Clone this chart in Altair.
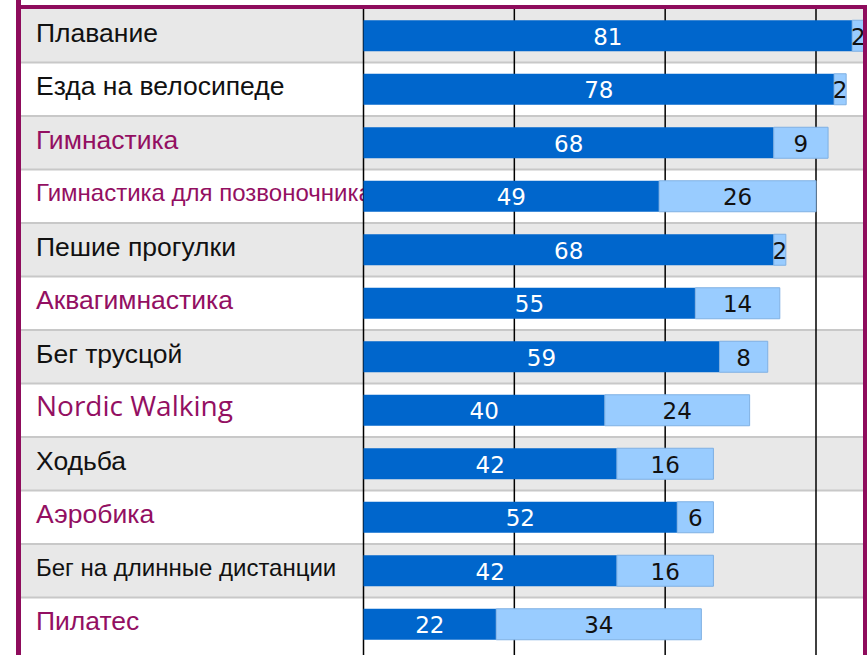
import altair as alt
import pandas as pd

# ---- data ----
categories = [
    "Плавание", "Езда на велосипеде", "Гимнастика", "Гимнастика для позвоночника",
    "Пешие прогулки", "Аквагимнастика", "Бег трусцой", "Nordic Walking",
    "Ходьба", "Аэробика", "Бег на длинные дистанции", "Пилатес",
]
dark_values = [81, 78, 68, 49, 68, 55, 59, 40, 42, 52, 42, 22]
light_values = [2, 2, 9, 26, 2, 14, 8, 24, 16, 6, 16, 34]
grid_ticks = [0, 25, 50, 75]

# ---- styles ----
PURPLE = "#8e0c5c"
LABEL_PURPLE = "#930f62"
DARK = "#0066cc"
LIGHT = "#99ccff"
label_groups = [
    (["Плавание", "Езда на велосипеде", "Пешие прогулки", "Бег трусцой", "Ходьба"],
     "Liberation Sans", 26.5, "#111111"),
    (["Бег на длинные дистанции"], "Liberation Sans", 24, "#111111"),
    (["Гимнастика", "Аквагимнастика", "Аэробика", "Пилатес"], "Liberation Sans", 26.5, LABEL_PURPLE),
    (["Гимнастика для позвоночника"], "Liberation Sans", 24, LABEL_PURPLE),
    (["Nordic Walking"], "Open Sans", 28, LABEL_PURPLE),
]

W, H = 842, 646
df = pd.DataFrame({
    "cat": categories,
    "dark": dark_values,
    "light": light_values,
    "row": list(range(len(categories))),
})
ticks_df = pd.DataFrame({"t": grid_ticks})
one = pd.DataFrame({"a": [0]})

y_scale = alt.Scale(domain=categories, range=[0, 642], paddingInner=0, paddingOuter=0)
x_scale = alt.Scale(domain=[-56.77, 82.79], nice=False, zero=False)

def Y(**kw):
    return alt.Y("cat:N", scale=y_scale, axis=None, sort=categories, **kw)

base = alt.Chart(df).transform_calculate(
    start="0",
    total="datum.dark + datum.light",
    mid1="datum.dark / 2",
    mid2="datum.dark + datum.light / 2",
)

backgrounds = base.mark_rect().encode(
    x=alt.value(0), x2=alt.value(W), y=Y(),
    color=alt.condition("datum.row % 2 == 0", alt.value("#e8e8e8"), alt.value("#ffffff")),
)

separators = base.mark_rule(color="#c8c8c8", strokeWidth=2).encode(
    y=Y(bandPosition=1)
).transform_filter("datum.row < 11")

label_layers = []
for names, font, size, color in label_groups:
    label_layers.append(
        base.mark_text(align="left", baseline="middle", font=font, fontSize=size, color=color, dy=-2)
        .encode(x=alt.value(15), y=Y(), text="cat:N")
        .transform_filter(alt.FieldOneOfPredicate(field="cat", oneOf=names))
    )

grid = alt.Chart(ticks_df).mark_rule(color="#000000", strokeWidth=1.5).encode(
    x=alt.X("t:Q", scale=x_scale, axis=None)
)

dark_bars = base.mark_bar(size=31, color=DARK).encode(
    x=alt.X("start:Q", scale=x_scale, axis=None), x2="dark:Q", y=Y()
)
light_bars = base.mark_bar(size=31, color=LIGHT, stroke="#7fb0e3", strokeWidth=1).encode(
    x=alt.X("dark:Q", scale=x_scale, axis=None), x2="total:Q", y=Y()
)

dark_text = base.mark_text(font="DejaVu Sans", fontSize=23, color="white", baseline="middle", dy=2).encode(
    x=alt.X("mid1:Q", scale=x_scale, axis=None), y=Y(), text="dark:Q"
)
light_text = base.mark_text(font="DejaVu Sans", fontSize=23, color="#111111", baseline="middle", dy=2).encode(
    x=alt.X("mid2:Q", scale=x_scale, axis=None), y=Y(), text="light:Q"
)

border_left = alt.Chart(one).mark_rule(color=PURPLE, strokeWidth=5).encode(
    x=alt.value(-2.5), y=alt.value(-9), y2=alt.value(H)
)
border_top = alt.Chart(one).mark_rule(color=PURPLE, strokeWidth=4).encode(
    x=alt.value(-5), x2=alt.value(W + 4), y=alt.value(-2)
)
border_right = alt.Chart(one).mark_rule(color=PURPLE, strokeWidth=4).encode(
    x=alt.value(W + 2), y=alt.value(-4), y2=alt.value(H)
)

chart = alt.layer(
    backgrounds, separators, *label_layers, grid, dark_bars, light_bars,
    dark_text, light_text, border_left, border_top, border_right,
).properties(
    width=W, height=H,
    padding={"left": 21, "top": 9, "right": 4, "bottom": 0},
    autosize="none",
    background="white",
).configure_view(stroke=None)

chart.save("out.html", embed_options={"renderer": "svg", "actions": False})
